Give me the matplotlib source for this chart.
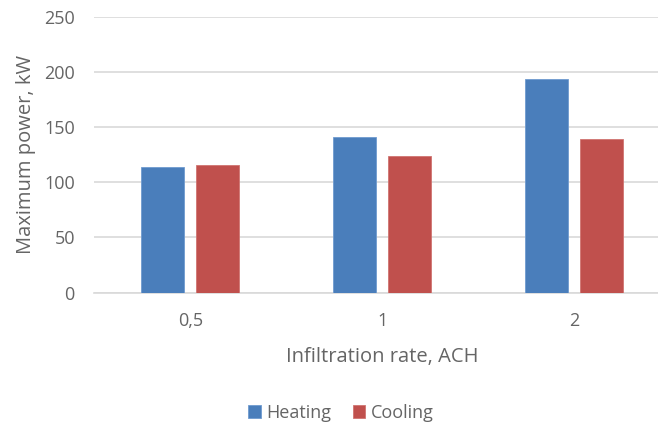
import matplotlib.pyplot as plt
import numpy as np

rates = ['0,5', '1', '2']
heating = [114, 141, 193.5]
cooling = [116, 123.5, 139.5]

plt.rcParams['font.family'] = ['Open Sans', 'DejaVu Sans']
grey = '#656565'

fig = plt.figure(figsize=(6.58, 4.25), dpi=100)
ax = fig.add_axes([0.1433, 0.3113, 0.875, 0.6494])

x = np.arange(len(rates))
w = 0.224
off = (w + 0.061) / 2
ax.bar(x - off, heating, w, color='#4a7ebb', edgecolor='#6f9bd0', linewidth=0.6, label='Heating', zorder=3)
ax.bar(x + off, cooling, w, color='#c0504d', edgecolor='#d07471', linewidth=0.6, label='Cooling', zorder=3)

ax.set_xlim(-0.5, 2.5)
ax.set_ylim(0, 250)
ax.set_yticks(range(0, 251, 50))
ax.set_xticks(x)
ax.set_xticklabels(rates)
ax.yaxis.grid(True, color='#d9d9d9', linewidth=1.2, zorder=0)
ax.set_axisbelow(True)
for s in ['top', 'right', 'left']:
    ax.spines[s].set_visible(False)
ax.spines['bottom'].set_color('#d9d9d9')
ax.spines['bottom'].set_linewidth(1.2)
ax.tick_params(axis='both', length=0, labelsize=13, colors=grey)
ax.tick_params(axis='y', pad=14)
ax.tick_params(axis='x', pad=14)

ax.set_ylabel('Maximum power, kW', fontsize=14.5, color=grey, labelpad=6)
ax.set_xlabel('Infiltration rate, ACH', fontsize=14.5, color=grey, labelpad=12)

fig.legend(loc='center', bbox_to_anchor=(0.518, 0.028), ncol=2, frameon=False,
           fontsize=13, labelcolor=grey, handlelength=0.7, handleheight=0.7,
           handletextpad=0.3, columnspacing=1.2)

fig.savefig('out.png', dpi=100)
